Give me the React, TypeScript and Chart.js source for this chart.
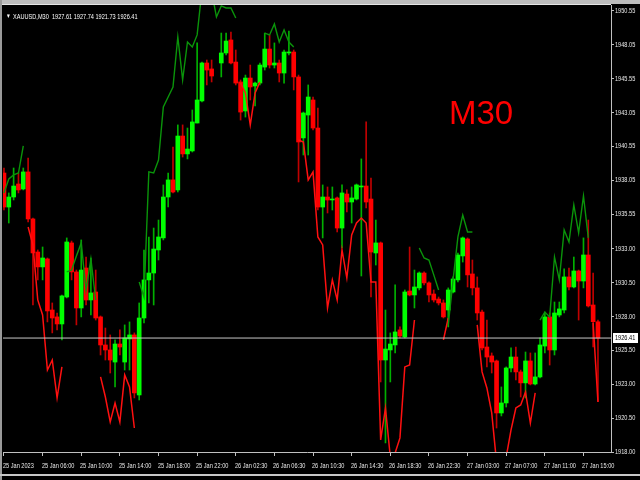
import React, { useEffect, useRef } from "react";
import { Chart, registerables } from "chart.js";

Chart.register(...registerables);

// ---------------- DATA ----------------
const symbolTitle = "XAUUSD,M30";
const periodLabel = "M30";
const lastOHLC = [1927.61, 1927.74, 1921.73, 1926.41];
const lastPrice = 1926.41;

const opens: (number | null)[] = [
  1938.59, 1936.08, 1936.82, 1937.78, 1937.41, 1938.67, 1935.2, 1932.76, 1931.66, 1932.25,
  1928.48, 1927.97, 1927.45, 1929.44, 1933.43, 1931.29, 1928.63, 1931.58, 1929.22, 1929.81,
  1927.97, 1925.9, 1925.53, 1924.64, 1925.97, 1924.64, 1926.34, 1926.64, 1922.21, 1927.89,
  1930.7, 1931.21, 1932.91, 1933.8, 1936.82, 1938.08, 1937.34, 1941.32, 1940.0, 1940.22,
  1942.28, 1943.91, 1946.71, 1946.27, null, 1946.71, 1947.45, 1948.41, 1946.78, 1945.31,
  1943.17, 1945.6, 1945.01, 1945.23, 1946.41, 1947.74, 1946.56, 1946.71, 1945.97, 1947.45,
  1947.52, 1945.68, 1941.18, 1942.87, 1943.98, 1941.91, 1936.08, 1936.82, 1936.6, 1936.75,
  1934.53, 1937.04, 1936.45, 1936.67, 1937.56, 1937.63, 1936.67, 1932.69, 1933.43, 1924.79,
  1925.53, 1925.9, 1927.01, 1926.49, 1929.88, 1929.59, 1930.11, 1931.21, 1930.48, 1929.66,
  1929.29, 1929.0, 1928.48, 1929.81, 1930.7, 1932.47, 1933.72, 1931.14, 1930.11, 1928.33,
  1925.75, 1925.09, 1924.72, 1920.88, 1921.62, 1924.2, 1925.01, 1923.91, 1923.1, 1924.72,
  1923.02, 1923.54, 1925.82, 1927.97, 1925.53, 1928.11, 1928.48, 1930.92, 1930.18, 1931.36,
  1930.62, 1932.54, 1928.85, 1927.61,
];
const highs: (number | null)[] = [
  1938.96, 1937.12, 1938.96, 1938.59, 1938.96, 1939.7, 1935.27, 1932.91, 1933.13, 1932.32,
  1929.0, 1928.26, 1929.59, 1933.8, 1933.57, 1931.43, 1933.65, 1932.39, 1932.32, 1931.43,
  1928.04, 1927.15, 1926.64, 1926.27, 1927.01, 1927.38, 1927.6, 1926.79, 1929.0, 1932.91,
  1933.87, 1934.53, 1935.12, 1937.71, 1938.59, 1940.51, 1942.14, 1942.14, 1941.91, 1943.24,
  1948.19, 1946.78, 1946.93, 1946.93, null, 1948.92, 1948.92, 1949.0, 1947.67, 1945.46,
  1945.82, 1946.56, 1945.31, 1946.71, 1948.92, 1948.78, 1948.19, 1946.93, 1947.67, 1949.07,
  1947.67, 1945.82, 1943.09, 1945.09, 1944.2, 1943.39, 1937.71, 1937.56, 1937.56, 1936.82,
  1937.71, 1937.34, 1937.56, 1937.78, 1939.63, 1942.36, 1938.22, 1935.12, 1933.5, 1928.48,
  1926.79, 1930.33, 1927.23, 1929.96, 1933.13, 1931.43, 1931.29, 1931.29, 1930.55, 1929.96,
  1929.44, 1929.22, 1930.11, 1930.92, 1932.69, 1933.87, 1933.8, 1932.17, 1930.92, 1928.48,
  1927.74, 1925.31, 1924.79, 1922.8, 1924.28, 1925.68, 1925.75, 1924.05, 1925.38, 1925.31,
  1925.31, 1926.42, 1928.33, 1928.26, 1929.07, 1929.07, 1931.51, 1931.58, 1932.39, 1931.43,
  1933.8, 1935.12, 1931.21, 1927.74,
];
const lows: (number | null)[] = [
  1935.86, 1934.9, 1936.6, 1937.12, 1937.34, 1934.98, 1928.85, 1930.7, 1930.7, 1927.6,
  1926.79, 1927.01, 1926.27, 1929.37, 1930.7, 1927.38, 1927.97, 1928.85, 1928.11, 1927.74,
  1925.16, 1924.79, 1923.83, 1922.8, 1925.16, 1924.05, 1924.05, 1921.99, 1921.84, 1927.52,
  1929.0, 1928.85, 1932.17, 1933.65, 1936.08, 1937.12, 1937.19, 1939.77, 1939.63, 1940.14,
  1942.28, 1943.83, 1945.09, 1945.31, null, 1945.68, 1947.3, 1946.64, 1945.09, 1942.5,
  1942.72, 1943.98, 1943.54, 1945.09, 1946.19, 1946.34, 1946.34, 1945.31, 1945.23, 1947.3,
  1944.72, 1937.93, 1939.92, 1939.92, 1941.77, 1935.86, 1933.8, 1935.64, 1935.86, 1934.24,
  1933.06, 1935.71, 1934.9, 1936.6, 1930.99, 1936.01, 1929.44, 1931.8, 1923.17, 1918.67,
  1923.17, 1925.31, 1926.42, 1926.42, 1929.52, 1928.63, 1929.96, 1930.33, 1929.07, 1929.07,
  1928.85, 1927.89, 1927.23, 1929.74, 1930.55, 1932.02, 1930.18, 1929.59, 1927.74, 1925.53,
  1924.28, 1923.83, 1919.77, 1920.66, 1921.32, 1923.91, 1923.32, 1922.06, 1921.99, 1922.95,
  1922.95, 1923.46, 1925.31, 1924.42, 1925.16, 1927.97, 1928.26, 1929.96, 1930.11, 1927.74,
  1930.11, 1928.7, 1925.75, 1921.73,
];
const closes: (number | null)[] = [
  1936.08, 1936.82, 1937.63, 1937.34, 1938.67, 1935.2, 1932.69, 1931.66, 1932.32, 1928.41,
  1927.89, 1927.45, 1929.52, 1933.5, 1931.29, 1928.63, 1931.43, 1929.22, 1929.74, 1927.89,
  1925.9, 1925.53, 1924.79, 1925.97, 1925.75, 1926.42, 1926.64, 1922.36, 1927.89, 1930.7,
  1931.21, 1932.98, 1933.87, 1936.82, 1938.08, 1937.19, 1941.32, 1940.0, 1940.36, 1942.36,
  1943.98, 1946.71, 1946.19, 1945.75, null, 1947.45, 1948.33, 1946.71, 1945.23, 1943.09,
  1945.6, 1944.94, 1945.23, 1946.56, 1947.74, 1946.56, 1946.71, 1945.97, 1947.52, 1947.52,
  1945.68, 1940.88, 1943.02, 1944.2, 1941.91, 1936.08, 1936.82, 1936.6, 1936.67, 1934.53,
  1937.12, 1936.45, 1936.75, 1937.71, 1937.63, 1936.45, 1932.76, 1933.43, 1924.79, 1925.6,
  1925.97, 1926.86, 1926.56, 1929.81, 1929.59, 1930.18, 1931.21, 1930.48, 1929.59, 1929.22,
  1929.0, 1927.97, 1929.96, 1930.77, 1932.54, 1933.8, 1931.07, 1930.11, 1928.26, 1925.68,
  1925.01, 1924.64, 1920.88, 1921.62, 1924.2, 1925.01, 1923.91, 1923.1, 1924.72, 1923.02,
  1923.54, 1925.9, 1927.97, 1925.53, 1928.26, 1928.56, 1930.92, 1930.18, 1931.36, 1930.62,
  1932.54, 1928.78, 1927.62, 1926.41,
];

// indicator lines: segments of [bar index, price]
const upperSegments: [number, number][][] = [
  [[0, 1937.12], [1, 1938.15], [2, 1938.45], [3, 1938.59], [4, 1940.59]],
  [[13, 1931.29], [14, 1931.43], [15, 1932.47], [16, 1933.43], [17, 1929.96], [18, 1932.25], [19, 1929.22]],
  [[28, 1930.55], [29, 1929.44], [30, 1938.67], [31, 1938.59], [32, 1939.55], [33, 1943.46], [34, 1944.2],
   [35, 1944.94], [36, 1948.63], [37, 1945.46], [38, 1948.26], [39, 1947.89], [40, 1948.78], [41, 1952.1],
   [42, 1952.2], [43, 1952.0], [44, 1950.11], [45, 1950.92], [46, 1950.77], [47, 1950.77], [48, 1950.03]],
  [[54, 1948.92], [55, 1948.78], [56, 1949.59], [57, 1948.26], [58, 1949.15], [59, 1948.26], [60, 1947.89]],
  [[86, 1933.06], [87, 1932.32], [88, 1932.17], [89, 1931.07], [90, 1929.96]],
  [[92, 1927.38], [93, 1930.7], [94, 1933.87], [95, 1935.49], [96, 1934.24], [97, 1934.24]],
  [[111, 1927.74], [112, 1928.33], [113, 1927.97], [114, 1932.39], [115, 1930.7], [116, 1934.39],
   [117, 1933.5], [118, 1936.23], [119, 1934.17], [120, 1936.9], [121, 1933.8]],
];
const lowerSegments: [number, number][][] = [
  [[5, 1934.61], [6, 1933.28], [7, 1929.22], [8, 1928.11], [9, 1924.05], [10, 1924.79], [11, 1921.99], [12, 1924.28]],
  [[20, 1923.54], [21, 1922.06], [22, 1920.22], [23, 1921.62], [24, 1920.22], [25, 1923.69], [26, 1922.8], [27, 1919.77]],
  [[49, 1945.23], [50, 1944.5], [51, 1942.14], [52, 1944.5], [53, 1945.31]],
  [[61, 1941.03], [62, 1940.88], [63, 1938.08], [64, 1938.67], [65, 1933.87], [66, 1933.28], [67, 1928.63],
   [68, 1930.7], [69, 1929.22], [70, 1932.91], [71, 1930.84], [72, 1934.02], [73, 1934.9], [74, 1935.27],
   [75, 1934.9], [76, 1930.55], [77, 1930.55], [78, 1918.89], [79, 1921.25], [80, 1917.63], [81, 1917.93],
   [82, 1919.04], [83, 1924.28], [84, 1924.42], [85, 1927.74]],
  [[91, 1926.27], [92, 1927.89]],
  [[98, 1927.38], [99, 1923.91], [100, 1922.73], [101, 1920.88], [102, 1917.26], [103, 1916.67], [104, 1917.63],
   [105, 1919.63], [106, 1921.25], [107, 1921.47], [108, 1922.43], [109, 1920.14], [110, 1922.36]],
  [[122, 1927.52], [123, 1921.69]],
];

const xTickBars = [0, 8, 16, 24, 32, 40, 48, 56, 64, 72, 80, 88, 96, 104, 112, 120];
const xTickLabels = [
  "25 Jan 2023", "25 Jan 06:00", "25 Jan 10:00", "25 Jan 14:00", "25 Jan 18:00", "25 Jan 22:00",
  "26 Jan 02:30", "26 Jan 06:30", "26 Jan 10:30", "26 Jan 14:30", "26 Jan 18:30", "26 Jan 22:30",
  "27 Jan 03:00", "27 Jan 07:00", "27 Jan 11:00", "27 Jan 15:00",
];
const yTicks = [
  1950.55, 1948.05, 1945.55, 1943.05, 1940.55, 1938.05, 1935.55, 1933.0, 1930.5, 1928.0,
  1925.5, 1923.0, 1920.5, 1918.0,
];

// ---------------- STYLE ----------------
const FONT = "'Liberation Sans', Arial, sans-serif";
const TEXT_SCALE = 0.8;
const AXIS_TEXT = "#e8e8e8";
const BULL = "#00ff00";
const BEAR = "#ff0000";
const BULL_WICK = "#00b000";
const BEAR_WICK = "#c00000";

function segmentsToData(segs: [number, number][][]) {
  const out: { x: number; y: number | null }[] = [];
  segs.forEach((s, k) => {
    if (k > 0) out.push({ x: s[0][0] - 0.5, y: null });
    s.forEach(([x, y]) => out.push({ x, y }));
  });
  return out;
}

function narrowText(ctx: CanvasRenderingContext2D, text: string, x: number, y: number) {
  ctx.save();
  ctx.translate(x, y);
  ctx.scale(TEXT_SCALE, 1);
  ctx.fillText(text, 0, 0);
  ctx.restore();
}

// axis labels drawn at the scales' own pixel positions, in a condensed terminal-like style
const axisLabels = {
  id: "axisLabels",
  afterDraw(chart: any) {
    const { ctx, chartArea } = chart;
    const xs = chart.scales.x;
    const ys = chart.scales.y;
    ctx.save();
    ctx.font = `7px ${FONT}`;
    ctx.fillStyle = AXIS_TEXT;
    ctx.textBaseline = "middle";
    ctx.textAlign = "left";
    xs.ticks.forEach((t: any, i: number) => {
      const px = xs.getPixelForValue(t.value);
      narrowText(ctx, xTickLabels[i], Math.round(px) - 1, chartArea.bottom + 14);
    });
    ys.ticks.forEach((t: any) => {
      const py = ys.getPixelForValue(t.value);
      narrowText(ctx, Number(t.value).toFixed(2), chartArea.right + 4, Math.round(py) + 0.5);
    });
    // current price tag
    const py = Math.round(ys.getPixelForValue(lastPrice));
    ctx.fillStyle = "#ffffff";
    ctx.fillRect(chartArea.right + 2, py - 5, 25, 10);
    ctx.fillStyle = "#000000";
    narrowText(ctx, lastPrice.toFixed(2), chartArea.right + 4, py + 0.5);
    ctx.restore();
  },
};

export default function App() {
  const ref = useRef<HTMLCanvasElement | null>(null);

  useEffect(() => {
    if (!ref.current) return;
    const idx = opens.map((_, i) => i).filter((i) => opens[i] != null);
    const isBull = (i: number) => (closes[i] as number) >= (opens[i] as number);

    const chart = new Chart(ref.current, {
      type: "bar",
      data: {
        datasets: [
          {
            type: "line",
            data: [
              { x: -1, y: lastPrice },
              { x: 130, y: lastPrice },
            ],
            borderColor: "#c8c8c8",
            borderWidth: 1,
            pointRadius: 0,
            order: -1,
          } as any,
          {
            type: "line",
            data: segmentsToData(upperSegments),
            borderColor: "#0a940a",
            borderWidth: 1.4,
            pointRadius: 0,
            spanGaps: false,
            tension: 0,
            order: 0,
          } as any,
          {
            type: "line",
            data: segmentsToData(lowerSegments),
            borderColor: "#ff1010",
            borderWidth: 1.5,
            pointRadius: 0,
            spanGaps: false,
            tension: 0,
            order: 0,
          } as any,
          {
            type: "bar",
            data: idx.map((i) => ({ x: i, y: [opens[i], closes[i]] })),
            backgroundColor: idx.map((i) => (isBull(i) ? BULL : BEAR)),
            borderWidth: 0,
            barThickness: 4,
            minBarLength: 1,
            grouped: false,
            order: 1,
          } as any,
          {
            type: "bar",
            data: idx.map((i) => ({ x: i, y: [lows[i], highs[i]] })),
            backgroundColor: idx.map((i) => (isBull(i) ? BULL_WICK : BEAR_WICK)),
            borderWidth: 0,
            barThickness: 1,
            grouped: false,
            order: 2,
          } as any,
        ],
      },
      options: {
        animation: false,
        responsive: false,
        maintainAspectRatio: false,
        layout: { padding: { top: 5, left: 3, right: 0, bottom: 0 } },
        plugins: { legend: { display: false }, tooltip: { enabled: false }, title: { display: false } },
        scales: {
          x: {
            type: "linear",
            min: -0.2,
            max: 125.7,
            offset: false,
            grid: {
              display: true,
              drawOnChartArea: false,
              drawTicks: true,
              tickLength: 4,
              color: "#c0c0c0",
              offset: false,
            },
            border: { display: true, color: "#c0c0c0", width: 1 },
            ticks: { display: false, autoSkip: false, maxRotation: 0 },
            afterBuildTicks: (s: any) => {
              s.ticks = xTickBars.map((v) => ({ value: v }));
            },
            afterFit: (s: any) => {
              s.height = 28;
            },
          },
          y: {
            type: "linear",
            position: "right",
            min: 1918.0,
            max: 1950.99,
            grid: {
              display: true,
              drawOnChartArea: false,
              drawTicks: true,
              tickLength: 3,
              color: "#c0c0c0",
            },
            border: { display: true, color: "#c0c0c0", width: 1 },
            ticks: { display: false, autoSkip: false },
            afterBuildTicks: (s: any) => {
              s.ticks = yTicks.map((v) => ({ value: v }));
            },
            afterFit: (s: any) => {
              s.width = 29;
            },
          },
        },
      } as any,
      plugins: [axisLabels],
    });
    return () => chart.destroy();
  }, []);

  const smallText: React.CSSProperties = {
    position: "absolute",
    color: "#ffffff",
    fontFamily: FONT,
    fontSize: 7,
    lineHeight: "7px",
    whiteSpace: "pre",
    transform: `scaleX(${TEXT_SCALE})`,
    transformOrigin: "left top",
  };

  return (
    <div style={{ position: "absolute", left: 0, top: 0, width: 640, height: 480, background: "#000", overflow: "hidden" }}>
      <canvas ref={ref} width={640} height={480} style={{ position: "absolute", left: 0, top: 0, width: 640, height: 480 }} />
      <div style={{ position: "absolute", left: 0, top: 0, width: 640, height: 4, background: "#bdbdbd" }} />
      <div style={{ position: "absolute", left: 0, top: 4, width: 611, height: 1, background: "#e6e6e6" }} />
      <div style={{ position: "absolute", left: 0, top: 0, width: 2, height: 480, background: "#9a9a9a" }} />
      <div style={{ position: "absolute", left: 0, top: 474, width: 640, height: 2, background: "#c8c8c8" }} />
      <div style={{ ...smallText, left: 6, top: 13, fontSize: 6 }}>▼</div>
      <div style={{ ...smallText, left: 13, top: 13 }}>
        {symbolTitle + "  " + lastOHLC.map((v) => v.toFixed(2)).join(" ")}
      </div>
      <div
        style={{
          position: "absolute",
          left: 449,
          top: 96,
          color: "#ff0000",
          fontFamily: "'Liberation Sans', Arial, sans-serif",
          fontSize: 33,
          lineHeight: "33px",
          whiteSpace: "pre",
        }}
      >
        {periodLabel}
      </div>
    </div>
  );
}
